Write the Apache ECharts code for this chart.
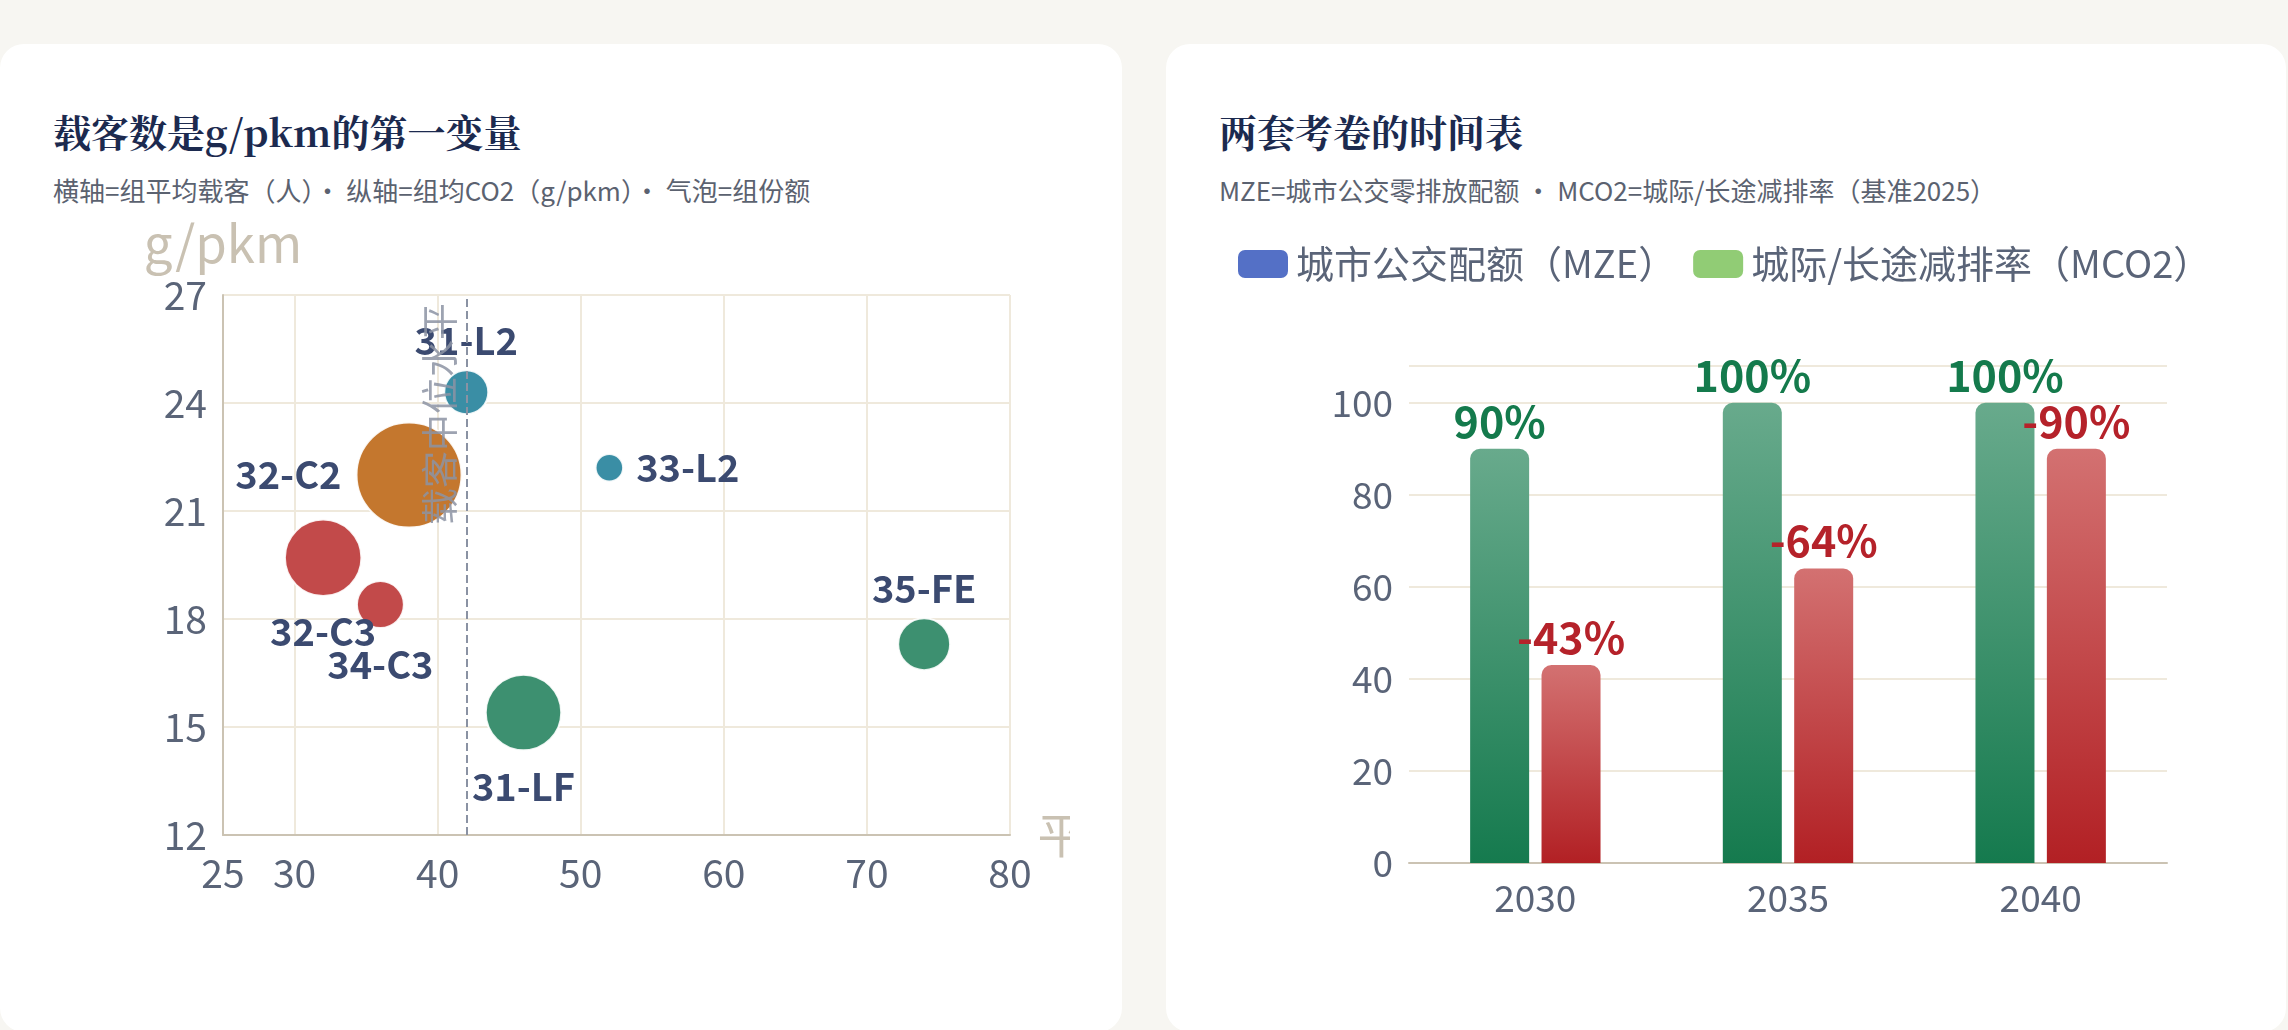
<!DOCTYPE html>
<html>
<head>
<meta charset="utf-8">
<script src="https://cdn.jsdelivr.net/npm/echarts@6/dist/echarts.min.js"></script>
<style>
  html, body { margin: 0; padding: 0; }
  body { width: 2288px; height: 1030px; background: #f7f6f2; position: relative; overflow: hidden;
         font-family: "Noto Sans CJK SC", "Noto Sans", sans-serif; }
  .card { position: absolute; top: 44px; height: 988px; background: #ffffff; border-radius: 24px; }
  .title { position: absolute; font-family: "Noto Serif CJK SC", "Noto Serif", "Liberation Serif", serif;
           font-weight: 700; font-size: 38px; color: #1c2a4f; line-height: 1; white-space: nowrap; }
  .sub { position: absolute; font-size: 26px; color: #5b6270; line-height: 1; white-space: nowrap; }
  #chart { position: absolute; left: 0; top: 0; width: 2288px; height: 1030px; }
</style>
</head>
<body>
<div class="card" style="left:0;width:1122px;"></div>
<div class="card" style="left:1166px;width:1120px;"></div>
<div class="title" style="left:53px;top:112px;">载客数是g/pkm的第一变量</div>
<div class="sub" style="left:53px;top:177px;">横轴=组平均载客（人）· 纵轴=组均CO2（g/pkm）· 气泡=组份额</div>
<div class="title" style="left:1219px;top:112px;">两套考卷的时间表</div>
<div class="sub" style="left:1219px;top:177px;">MZE=城市公交零排放配额 · MCO2=城际/长途减排率（基准2025）</div>
<div id="chart"></div>
<script>
// ---- Scatter (bubble) data ----
const groups  = ['31-L2', '32-C2', '32-C3', '34-C3', '31-LF', '33-L2', '35-FE'];
const avgLoad = [42, 38, 32, 36, 46, 52, 74];              // 组平均载客（人）
const co2     = [24.3, 22.0, 19.7, 18.4, 15.4, 22.2, 17.3]; // g/pkm
const share   = [5.1, 29, 15.4, 5.8, 15, 2.0, 7.1];        // 组份额
const medianLoad = 42;                                       // 载客中位水平

// ---- Bar data ----
const years = ['2030', '2035', '2040'];
const mze   = [90, 100, 100];   // 城市公交配额（MZE）%
const mco2  = [43, 64, 90];     // 城际/长途减排率（MCO2）%

const seriesNames = ['城市公交配额（MZE）', '城际/长途减排率（MCO2）'];

const typeColor = { L2: '#3a8ea5', C2: '#c4772e', C3: '#c24a4a', LF: '#3d9070', FE: '#3d9070' };
const labelPos = { '31-L2': 'top', '32-C2': 'left', '32-C3': 'bottom', '34-C3': 'bottom',
                   '31-LF': 'bottom', '33-L2': 'right', '35-FE': 'top' };
const labelDist = { top: 10, left: 14, right: 12, bottom: 16 };

const bubbleData = groups.map((g, i) => ({
  name: g,
  value: [avgLoad[i], co2[i], share[i]],
  itemStyle: { color: typeColor[g.split('-')[1]] },
  label: { position: labelPos[g], distance: labelDist[labelPos[g]] }
}));

const greenGrad = new echarts.graphic.LinearGradient(0, 0, 0, 1, [
  { offset: 0, color: '#68aa8c' }, { offset: 1, color: '#157a4e' }]);
const redGrad = new echarts.graphic.LinearGradient(0, 0, 0, 1, [
  { offset: 0, color: '#d37171' }, { offset: 1, color: '#b22024' }]);

const axisLabelColor = '#5a6478';
const gridLineColor = '#efe9dc';
const axisLineColor = '#cbc3b3';
const nameColor = '#c9c1b2';
const FONT = '"Noto Sans CJK SC", "Noto Sans", sans-serif';

const chart = echarts.init(document.getElementById('chart'), null, { renderer: 'canvas' });
chart.setOption({
  animation: false,
  textStyle: { fontFamily: FONT },
  legend: {
    data: seriesNames,
    left: 1233, top: 240,
    icon: 'roundRect', itemWidth: 50, itemHeight: 28, itemGap: 17,
    textStyle: { fontSize: 38, color: axisLabelColor, fontFamily: FONT, padding: [0, 0, 0, 3] }
  },
  grid: [
    { left: 223, top: 295, width: 787, height: 540 },
    { left: 1409, top: 366, width: 758, height: 497 }
  ],
  xAxis: [
    {
      gridIndex: 0, type: 'value', min: 25, max: 80,
      name: '平', nameLocation: 'end', nameGap: 10,
      nameTextStyle: { color: nameColor, fontSize: 48, fontFamily: FONT, padding: [10, 0, 0, 0] },
      axisLine: { show: true, lineStyle: { color: axisLineColor, width: 2 } },
      axisTick: { show: false },
      axisLabel: { color: axisLabelColor, fontSize: 39, margin: 19, fontFamily: FONT },
      splitLine: { show: true, lineStyle: { color: gridLineColor, width: 2 } }
    },
    {
      gridIndex: 1, type: 'category', data: years,
      axisLine: { show: true, lineStyle: { color: axisLineColor, width: 2 } },
      axisTick: { show: false },
      axisLabel: { color: axisLabelColor, fontSize: 37, margin: 16, fontFamily: FONT },
      splitLine: { show: false }
    }
  ],
  yAxis: [
    {
      gridIndex: 0, type: 'value', min: 12, max: 27, interval: 3,
      name: 'g/pkm', nameLocation: 'end', nameGap: 26,
      nameTextStyle: { color: nameColor, fontSize: 51, fontFamily: FONT },
      axisLine: { show: true, lineStyle: { color: axisLineColor, width: 2 } },
      axisTick: { show: false },
      axisLabel: { color: axisLabelColor, fontSize: 39, margin: 16, fontFamily: FONT },
      splitLine: { show: true, lineStyle: { color: gridLineColor, width: 2 } }
    },
    {
      gridIndex: 1, type: 'value', min: 0, max: 108,
      axisLine: { show: false },
      axisTick: { show: false },
      axisLabel: { color: axisLabelColor, fontSize: 37, margin: 16, fontFamily: FONT, showMaxLabel: false },
      splitLine: { show: true, lineStyle: { color: gridLineColor, width: 2 } }
    }
  ],
  series: [
    {
      type: 'scatter', xAxisIndex: 0, yAxisIndex: 0,
      data: bubbleData,
      symbolSize: d => Math.sqrt(d[2]) * 19.5,
      itemStyle: { borderColor: 'rgba(255,255,255,0.9)', borderWidth: 2, opacity: 1 },
      label: {
        show: true, formatter: p => p.name,
        color: '#3b4a70', fontSize: 38, fontWeight: 'bold', fontFamily: FONT
      },
      markLine: {
        silent: true, symbol: 'none',
        lineStyle: { type: 'dashed', color: '#8a92a3', width: 2 },
        label: {
          show: true, formatter: '载客中位水平', position: 'insideEndTop', distance: 8,
          color: 'rgba(140,147,163,0.85)', fontSize: 37, fontFamily: FONT
        },
        data: [{ xAxis: medianLoad }]
      }
    },
    {
      name: seriesNames[0], type: 'bar', xAxisIndex: 1, yAxisIndex: 1,
      barWidth: 59, barGap: '21%',
      itemStyle: { color: '#5470c6' },
      data: mze.map(v => ({ value: v, itemStyle: { color: greenGrad, borderRadius: [10, 10, 0, 0] } })),
      label: { show: true, position: 'top', distance: 6, formatter: '{c}%',
               color: '#147a4c', fontSize: 43, fontWeight: 'bold', fontFamily: FONT }
    },
    {
      name: seriesNames[1], type: 'bar', xAxisIndex: 1, yAxisIndex: 1,
      barWidth: 59,
      itemStyle: { color: '#91cc75' },
      data: mco2.map(v => ({ value: v, itemStyle: { color: redGrad, borderRadius: [10, 10, 0, 0] } })),
      label: { show: true, position: 'top', distance: 6, formatter: '-{c}%',
               color: '#b5222a', fontSize: 43, fontWeight: 'bold', fontFamily: FONT }
    }
  ],
  graphic: [
    { type: 'rect', z: 100, shape: { x: 1070, y: 800, width: 50, height: 80 }, style: { fill: '#ffffff' } }
  ]
});
</script>
</body>
</html>
